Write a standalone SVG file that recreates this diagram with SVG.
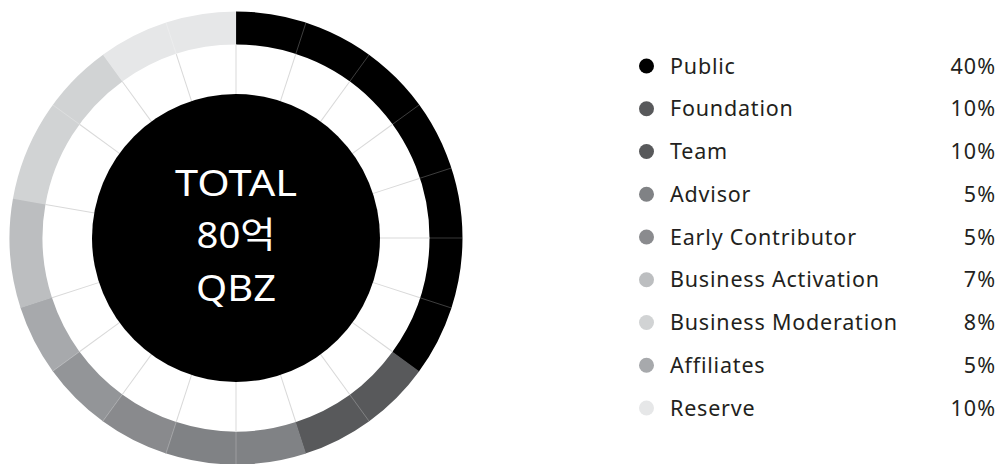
<svg xmlns="http://www.w3.org/2000/svg" width="1002" height="464" viewBox="0 0 1002 464">
  <style>
    .band { fill: none; stroke-width: 33; }
    .spoke { stroke: #d9d9d9; stroke-width: 1; }
    .div { stroke: #ffffff; stroke-opacity: 0.28; stroke-width: 0.8; }
    .ctr { font-family: "Noto Sans", "Noto Sans CJK KR", sans-serif; font-size: 36px; font-weight: 400; fill: #ffffff; text-anchor: middle; }
    .lbl { font-family: "Noto Sans", sans-serif; font-size: 21.5px; fill: #231f20; letter-spacing: 0.8px; }
    .pct { font-family: "Noto Sans", sans-serif; font-size: 21.5px; fill: #231f20; text-anchor: end; letter-spacing: 1px; }
  </style>
  <rect x="0" y="0" width="1002" height="464" fill="#ffffff"/>

  <g id="chart">
    <g id="ring-segments">
      <circle class="band" cx="236" cy="238" r="210" stroke="#000000" stroke-dasharray="462.4 1319.47" transform="rotate(-90 236 238)"/>
      <circle class="band" cx="236" cy="238" r="210" stroke="#58595b" stroke-dasharray="132.5 1319.47" transform="rotate(36 236 238)"/>
      <circle class="band" cx="236" cy="238" r="210" stroke="#808285" stroke-dasharray="132.5 1319.47" transform="rotate(72 236 238)"/>
      <circle class="band" cx="236" cy="238" r="210" stroke="#898a8d" stroke-dasharray="66.5 1319.47" transform="rotate(108 236 238)"/>
      <circle class="band" cx="236" cy="238" r="210" stroke="#939598" stroke-dasharray="66.5 1319.47" transform="rotate(126 236 238)"/>
      <circle class="band" cx="236" cy="238" r="210" stroke="#a7a9ac" stroke-dasharray="66.5 1319.47" transform="rotate(144 236 238)"/>
      <circle class="band" cx="236" cy="238" r="210" stroke="#bcbec0" stroke-dasharray="103.2 1319.47" transform="rotate(162 236 238)"/>
      <circle class="band" cx="236" cy="238" r="210" stroke="#d1d3d4" stroke-dasharray="161.8 1319.47" transform="rotate(190 236 238)"/>
      <circle class="band" cx="236" cy="238" r="210" stroke="#e6e7e8" stroke-dasharray="132.0 1319.47" transform="rotate(234 236 238)"/>
    </g>
    <g id="spokes">
      <line class="spoke" x1="236" y1="44.5" x2="236" y2="96" transform="rotate(0 236 238)"/>
      <line class="spoke" x1="236" y1="44.5" x2="236" y2="96" transform="rotate(18 236 238)"/>
      <line class="spoke" x1="236" y1="44.5" x2="236" y2="96" transform="rotate(36 236 238)"/>
      <line class="spoke" x1="236" y1="44.5" x2="236" y2="96" transform="rotate(54 236 238)"/>
      <line class="spoke" x1="236" y1="44.5" x2="236" y2="96" transform="rotate(72 236 238)"/>
      <line class="spoke" x1="236" y1="44.5" x2="236" y2="96" transform="rotate(90 236 238)"/>
      <line class="spoke" x1="236" y1="44.5" x2="236" y2="96" transform="rotate(108 236 238)"/>
      <line class="spoke" x1="236" y1="44.5" x2="236" y2="96" transform="rotate(126 236 238)"/>
      <line class="spoke" x1="236" y1="44.5" x2="236" y2="96" transform="rotate(144 236 238)"/>
      <line class="spoke" x1="236" y1="44.5" x2="236" y2="96" transform="rotate(162 236 238)"/>
      <line class="spoke" x1="236" y1="44.5" x2="236" y2="96" transform="rotate(180 236 238)"/>
      <line class="spoke" x1="236" y1="44.5" x2="236" y2="96" transform="rotate(198 236 238)"/>
      <line class="spoke" x1="236" y1="44.5" x2="236" y2="96" transform="rotate(216 236 238)"/>
      <line class="spoke" x1="236" y1="44.5" x2="236" y2="96" transform="rotate(234 236 238)"/>
      <line class="spoke" x1="236" y1="44.5" x2="236" y2="96" transform="rotate(252 236 238)"/>
      <line class="spoke" x1="236" y1="44.5" x2="236" y2="96" transform="rotate(280 236 238)"/>
      <line class="spoke" x1="236" y1="44.5" x2="236" y2="96" transform="rotate(306 236 238)"/>
      <line class="spoke" x1="236" y1="44.5" x2="236" y2="96" transform="rotate(324 236 238)"/>
      <line class="spoke" x1="236" y1="44.5" x2="236" y2="96" transform="rotate(342 236 238)"/>
    </g>
    <g id="band-dividers">
      <line class="div" x1="236" y1="11.5" x2="236" y2="44.5" transform="rotate(18 236 238)"/>
      <line class="div" x1="236" y1="11.5" x2="236" y2="44.5" transform="rotate(36 236 238)"/>
      <line class="div" x1="236" y1="11.5" x2="236" y2="44.5" transform="rotate(54 236 238)"/>
      <line class="div" x1="236" y1="11.5" x2="236" y2="44.5" transform="rotate(72 236 238)"/>
      <line class="div" x1="236" y1="11.5" x2="236" y2="44.5" transform="rotate(90 236 238)"/>
      <line class="div" x1="236" y1="11.5" x2="236" y2="44.5" transform="rotate(108 236 238)"/>
      <line class="div" x1="236" y1="11.5" x2="236" y2="44.5" transform="rotate(144 236 238)"/>
      <line class="div" x1="236" y1="11.5" x2="236" y2="44.5" transform="rotate(180 236 238)"/>
      <line class="div" x1="236" y1="11.5" x2="236" y2="44.5" transform="rotate(198 236 238)"/>
      <line class="div" x1="236" y1="11.5" x2="236" y2="44.5" transform="rotate(216 236 238)"/>
      <line class="div" x1="236" y1="11.5" x2="236" y2="44.5" transform="rotate(234 236 238)"/>
      <line class="div" x1="236" y1="11.5" x2="236" y2="44.5" transform="rotate(306 236 238)"/>
      <line class="div" x1="236" y1="11.5" x2="236" y2="44.5" transform="rotate(342 236 238)"/>
    </g>
    <g id="center">
      <circle cx="236" cy="238" r="144" fill="#000000"/>
      <text class="ctr" x="236" y="196" textLength="122" lengthAdjust="spacingAndGlyphs">TOTAL</text>
      <text class="ctr" x="236" y="247.5" textLength="79" lengthAdjust="spacingAndGlyphs">80억</text>
      <text class="ctr" x="236" y="300.5" textLength="80" lengthAdjust="spacingAndGlyphs">QBZ</text>
    </g>
  </g>

  <g id="legend">
    <g id="legend-public"><circle cx="646.5" cy="66" r="7.5" fill="#000000"/><text class="lbl" x="670" y="73.5">Public</text><text class="pct" x="996" y="73.5">40%</text></g>
    <g id="legend-foundation"><circle cx="646.5" cy="108.75" r="7.5" fill="#58595b"/><text class="lbl" x="670" y="116.25">Foundation</text><text class="pct" x="996" y="116.25">10%</text></g>
    <g id="legend-team"><circle cx="646.5" cy="151.5" r="7.5" fill="#58595b"/><text class="lbl" x="670" y="159">Team</text><text class="pct" x="996" y="159">10%</text></g>
    <g id="legend-advisor"><circle cx="646.5" cy="194.25" r="7.5" fill="#808285"/><text class="lbl" x="670" y="201.75">Advisor</text><text class="pct" x="996" y="201.75">5%</text></g>
    <g id="legend-early"><circle cx="646.5" cy="237" r="7.5" fill="#8a8b8e"/><text class="lbl" x="670" y="244.5">Early Contributor</text><text class="pct" x="996" y="244.5">5%</text></g>
    <g id="legend-activation"><circle cx="646.5" cy="279.75" r="7.5" fill="#bcbec0"/><text class="lbl" x="670" y="287.25">Business Activation</text><text class="pct" x="996" y="287.25">7%</text></g>
    <g id="legend-moderation"><circle cx="646.5" cy="322.5" r="7.5" fill="#d1d3d4"/><text class="lbl" x="670" y="330">Business Moderation</text><text class="pct" x="996" y="330">8%</text></g>
    <g id="legend-affiliates"><circle cx="646.5" cy="365.25" r="7.5" fill="#a7a9ac"/><text class="lbl" x="670" y="372.75">Affiliates</text><text class="pct" x="996" y="372.75">5%</text></g>
    <g id="legend-reserve"><circle cx="646.5" cy="408" r="7.5" fill="#e6e7e8"/><text class="lbl" x="670" y="415.5">Reserve</text><text class="pct" x="996" y="415.5">10%</text></g>
  </g>

  <g id="connectors"></g>
</svg>
